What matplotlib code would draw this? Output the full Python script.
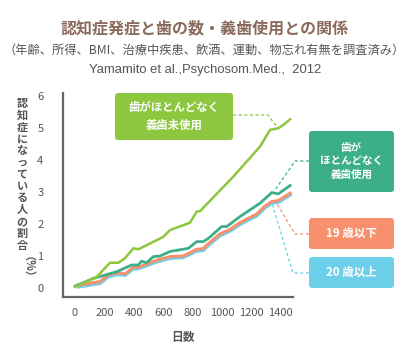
import matplotlib
matplotlib.use("Agg")
import matplotlib.pyplot as plt
from matplotlib.patches import FancyBboxPatch

plt.rcParams['font.family'] = ['Noto Sans CJK JP', 'DejaVu Sans']

# ---- data ----
green_days = [0, 148, 238, 295, 340, 397, 431, 601, 646, 782, 828, 850, 1077, 1259, 1327, 1383, 1417, 1463]
green_vals = [0.04, 0.35, 0.79, 0.79, 0.93, 1.24, 1.21, 1.60, 1.81, 2.04, 2.39, 2.40, 3.48, 4.42, 4.94, 4.99, 5.09, 5.27]

teal_days = [0, 125, 283, 385, 431, 453, 487, 533, 578, 646, 771, 828, 873, 907, 998, 1032, 1122, 1259, 1338, 1383, 1463]
teal_vals = [0.06, 0.30, 0.51, 0.72, 0.72, 0.84, 0.79, 0.98, 1.00, 1.14, 1.24, 1.45, 1.45, 1.55, 1.92, 1.92, 2.23, 2.65, 2.98, 2.94, 3.20]

salmon_days = [22, 170, 227, 295, 340, 397, 431, 556, 646, 737, 828, 873, 896, 986, 1054, 1122, 1236, 1293, 1338, 1383, 1463]
salmon_vals = [0.09, 0.20, 0.41, 0.48, 0.44, 0.65, 0.65, 0.87, 0.98, 1.00, 1.21, 1.23, 1.34, 1.69, 1.83, 2.04, 2.31, 2.56, 2.70, 2.73, 2.96]

blue_days = [22, 170, 227, 295, 340, 397, 431, 556, 646, 737, 828, 873, 896, 986, 1054, 1122, 1236, 1293, 1338, 1383, 1463]
blue_vals = [0.04, 0.15, 0.36, 0.43, 0.40, 0.60, 0.61, 0.82, 0.93, 0.96, 1.16, 1.18, 1.29, 1.64, 1.78, 1.99, 2.26, 2.51, 2.65, 2.68, 2.91]

x_ticks = [0, 200, 400, 600, 800, 1000, 1200, 1400]
y_ticks = [0, 1, 2, 3, 4, 5, 6]

title = "認知症発症と歯の数・義歯使用との関係"
subtitle = "（年齢、所得、BMI、治療中疾患、飲酒、運動、物忘れ有無を調査済み）"
source = "Yamamito et al.,Psychosom.Med.,  2012"
ylabel = "認知症になっている人の割合"
ylabel_unit = "（%）"
xlabel = "日数"

label_green = "歯がほとんどなく\n義歯未使用"
label_teal = "歯が\nほとんどなく\n義歯使用"
label_salmon = "19 歳以下"
label_blue = "20 歳以上"

c_green = "#8DC63F"
c_teal = "#3DAF88"
c_salmon = "#F8906E"
c_blue = "#6DD0EA"
c_text = "#555555"

W, H = 410, 360
fig = plt.figure(figsize=(W / 100, H / 100), dpi=100)
fig.patch.set_facecolor("white")

ax = fig.add_axes([63 / W, 1 - 297 / H, (293 - 63) / W, (297 - 93) / H])
ax.plot(blue_days, blue_vals, color=c_blue, lw=2.6, solid_joinstyle='round')
ax.plot(salmon_days, salmon_vals, color=c_salmon, lw=2.2, solid_joinstyle='round')
ax.plot(teal_days, teal_vals, color=c_teal, lw=2.0, solid_joinstyle='round')
ax.plot(green_days, green_vals, color=c_green, lw=1.8, solid_joinstyle='round')
ax.set_xlim(-82, 1483)
ax.set_ylim(-0.28, 6.09)
ax.set_xticks(x_ticks)
ax.set_yticks(y_ticks)
ax.tick_params(length=0, labelsize=8, colors=c_text, pad=8)
ax.tick_params(axis='y', pad=14)
for s in ['top', 'right']:
    ax.spines[s].set_visible(False)
for s in ['left', 'bottom']:
    ax.spines[s].set_color("#666666")
    ax.spines[s].set_linewidth(1.6)

# overlay in pixel coordinates for annotations
ov = fig.add_axes([0, 0, 1, 1], facecolor='none')
ov.set_xlim(0, W)
ov.set_ylim(H, 0)
ov.axis('off')

ov.text(205, 28, title, ha='center', va='center', fontsize=11.5, fontweight='bold', color="#8A6A5C")
ov.text(204, 50, subtitle, ha='center', va='center', fontsize=8.8, color=c_text)
ov.text(205, 70, source, ha='center', va='center', fontsize=9.4, color=c_text, family='Liberation Sans')

# vertical y label (stacked characters in one text)
ov.text(22, 97, "\n".join(ylabel), ha='center', va='top', fontsize=8, fontweight='bold',
        color=c_text, linespacing=0.88, multialignment='center')
ov.text(22, 272, ylabel_unit, ha='center', va='center', fontsize=8, fontweight='bold', color=c_text, rotation=270)

ov.text(183, 337, xlabel, ha='center', va='center', fontsize=8.5, fontweight='bold', color=c_text)

def box(x0, y0, x1, y1, color, text, fs):
    p = FancyBboxPatch((x0 + 3, y0 + 3), x1 - x0 - 6, y1 - y0 - 6,
                       boxstyle="round,pad=3", fc=color, ec='none')
    ov.add_patch(p)
    ov.text((x0 + x1) / 2, (y0 + y1) / 2, text, ha='center', va='center',
            fontsize=fs, fontweight='bold', color='white', linespacing=1.4)

box(115, 93, 233, 140, c_green, label_green, 8.2)
box(309, 131, 394, 192, c_teal, label_teal, 7.6)
box(309, 218, 394, 249, c_salmon, label_salmon, 8.3)
box(309, 257, 394, 288, c_blue, label_blue, 8.3)

dash = dict(lw=0.9, ls=(0, (2.5, 2)))
ov.plot([233, 268, 277], [115, 115, 127], color=c_green, **dash)
ov.plot([309, 295, 275], [161, 161, 190], color=c_teal, **dash)
ov.plot([309, 295, 277], [234, 234, 204], color=c_salmon, **dash)
ov.plot([309, 293, 272], [273, 273, 203], color=c_blue, **dash)

fig.savefig("out.png", dpi=100, facecolor="white")
